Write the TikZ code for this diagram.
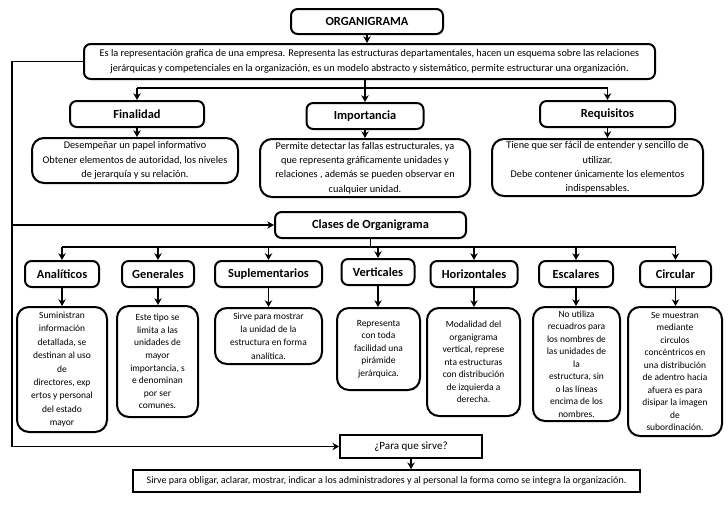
\documentclass[tikz,border=0pt]{standalone}
\usepackage{fontspec}
\setmainfont{Carlito}
\usetikzlibrary{arrows.meta}
\begin{document}
\begin{tikzpicture}[x=0.75pt,y=-0.75pt,
  arr/.style={-{Stealth[length=5pt,width=5.5pt,inset=1.5pt]}, line width=1.2pt},
  ln/.style={line width=1.2pt},
  bx/.style n args={2}{draw, line width=1.5pt, rounded corners=5pt, minimum width=#1*0.75pt, minimum height=#2*0.75pt, inner sep=0pt, align=center},
  dbx/.style n args={2}{bx={#1}{#2}, rounded corners=9pt},
  sq/.style n args={2}{bx={#1}{#2}, rounded corners=0pt, line width=1.2pt},
  title/.style={font=\fontsize{9.3}{11}\selectfont\bfseries},
  top/.style={font=\fontsize{7.7}{10.8}\selectfont},
  small/.style={font=\fontsize{7.1}{9.4}\selectfont},
  smallw/.style={font=\fontsize{7.1}{10.1}\selectfont}
]
\fill[white] (0,0) rectangle (728,504);
\useasboundingbox (0,0) rectangle (728,504);

% top
\node[bx={152}{25}, title] (org) at (367,21.5) {ORGANIGRAMA};
\node[bx={571}{35}, top] (desc) at (369.5,61.5) {Es la representación grafica de una empresa. Representa las estructuras departamentales, hacen un esquema sobre las relaciones\\jerárquicas y competenciales en la organización, es un modelo abstracto y sistemático, permite estructurar una organización.};

\node[bx={134}{26}, title] (fin) at (137,114) {Finalidad};
\node[bx={117}{26}, title] (imp) at (365,116) {Importancia};
\node[bx={135}{26}, title] (req) at (607.5,114) {Requisitos};

\node[dbx={206}{45}, top] (find) at (135,160.5) {Desempeñar un papel informativo\\Obtener elementos de autoridad, los niveles\\de jerarquía y su relación.};
\node[dbx={210}{58}, top] (impd) at (365,168) {Permite detectar las fallas estructurales, ya\\que representa gráficamente unidades y\\relaciones , además se pueden observar en\\cualquier unidad.};
\node[dbx={211}{57}, top] (reqd) at (597.5,167.5) {Tiene que ser fácil de entender y sencillo de\\utilizar.\\Debe contener únicamente los elementos\\indispensables.};

\node[bx={191}{26}, title] (clases) at (370.5,225) {Clases de Organigrama};

% classes
\node[bx={74}{26}, title] (ana) at (62,274) {Analíticos};
\node[bx={72}{26}, title] (gen) at (158,274) {Generales};
\node[bx={107}{26}, title] (sup) at (268.5,274) {Suplementarios};
\node[bx={73}{26}, title] (ver) at (378,272) {Verticales};
\node[bx={87}{26}, title] (hor) at (474,274) {Horizontales};
\node[bx={74}{26}, title] (esc) at (576,274) {Escalares};
\node[bx={71}{26}, title] (cir) at (675.5,274) {Circular};

% class details
\node[dbx={90}{125}, smallw] (anad) at (62,369.5) {Suministran\\información\\detallada, se\\destinan al uso\\de\\directores, exp\\ertos y personal\\del estado\\mayor};
\node[dbx={81}{111}, small] (gend) at (157.5,361.5) {Este tipo se\\limita a las\\unidades de\\mayor\\importancia, s\\e denominan\\por ser\\comunes.};
\node[dbx={107}{56}, smallw] (supd) at (268.5,336) {Sirve para mostrar\\la unidad de la\\estructura en forma\\analítica.};
\node[dbx={83}{82}, small] (verd) at (378.5,349) {Representa\\con toda\\facilidad una\\pirámide\\jerárquica.};
\node[dbx={93}{108}, small] (hord) at (473.5,362) {Modalidad del\\organigrama\\vertical, represe\\nta estructuras\\con distribución\\de izquierda a\\derecha.};
\node[dbx={87}{114}, small] (escd) at (576.5,364) {No utiliza\\recuadros para\\los nombres de\\las unidades de\\la\\estructura, sin\\o las líneas\\encima de los\\nombres.};
\node[dbx={94}{129}, small] (cird) at (675,371.5) {Se muestran\\mediante\\circulos\\concéntricos en\\una distribución\\de adentro hacia\\afuera es para\\disipar la imagen\\de\\subordinación.};

% bottom
\node[sq={142}{23}, font=\fontsize{8.3}{10}\selectfont] (para) at (411,446.5) {¿Para que sirve?};
\node[sq={507}{22}, font=\fontsize{7.5}{9}\selectfont] (bot) at (386.5,481) {Sirve para obligar, aclarar, mostrar, indicar a los administradores y al personal la forma como se integra la organización.};

% connectors
\coordinate (h1) at (0,88);
\coordinate (h2) at (0,247);
\coordinate (L) at (12,0);

\draw[arr] (org.south) -- (org.south |- desc.north);
\draw[arr] (imp.north |- desc.south) -- (imp.north);
\draw[ln] (h1 -| fin.north) -- (h1 -| req.north);
\draw[arr] (h1 -| fin.north) -- (fin.north);
\draw[arr] (h1 -| req.north) -- (req.north);

\draw[arr] (fin.south) -- (fin.south |- find.north);
\draw[arr] (imp.south) -- (imp.south |- impd.north);
\draw[arr] (req.south) -- (req.south |- reqd.north);

\draw[ln] (desc.west) -- (desc.west -| L) -- (para.west -| L);
\draw[arr] (clases.west -| L) -- (clases.west);
\draw[arr] (para.west -| L) -- (para.west);

\draw[ln] (clases.south) -- (clases.south |- h2);
\draw[ln] (h2 -| ana.north) -- (h2 -| cir.north);
\foreach \n in {ana,gen,sup,ver,hor,esc,cir}{
  \draw[arr] (h2 -| \n.north) -- (\n.north);
}
\draw[arr] (ana.south) -- (ana.south |- anad.north);
\draw[arr] (gen.south) -- (gen.south |- gend.north);
\draw[arr] (sup.south) -- (sup.south |- supd.north);
\draw[arr] (ver.south) -- (ver.south |- verd.north);
\draw[arr] (hor.south) -- (hor.south |- hord.north);
\draw[arr] (esc.south) -- (esc.south |- escd.north);
\draw[arr] (cir.south) -- (cir.south |- cird.north);

\draw[arr] (para.south) -- (para.south |- bot.north);
\end{tikzpicture}
\end{document}
